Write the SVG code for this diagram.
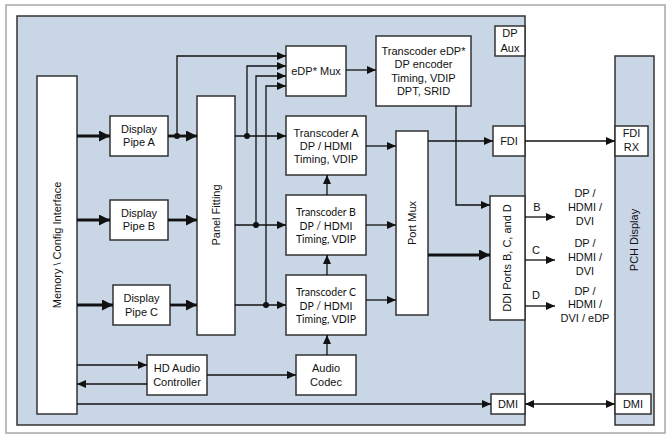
<svg xmlns="http://www.w3.org/2000/svg" width="672" height="441" viewBox="0 0 672 441">
<style>
.frame{fill:#ffffff;stroke:#a8a8a8;stroke-width:1.5}
.area{fill:#c9d6e5;stroke:#333333;stroke-width:1.5}
.box{fill:#ffffff;stroke:#333333;stroke-width:1.5}
.t{font-family:"Liberation Sans",Arial,sans-serif;font-size:11px;fill:#111111;text-anchor:middle}
.tc{font-family:Lato,"Liberation Sans",sans-serif;font-size:10.5px;fill:#111111;text-anchor:middle}
.ln{fill:none;stroke:#111111;stroke-width:1.3}
.thick{fill:none;stroke:#111111;stroke-width:2.8}
.dot{fill:#111111}
</style>
<defs>
<marker id="ah" markerWidth="9" markerHeight="8" refX="9" refY="4" orient="auto-start-reverse" markerUnits="userSpaceOnUse"><path d="M0,0 L9,4 L0,8 z" fill="#111111"/></marker>
<marker id="ahT" markerWidth="11" markerHeight="11" refX="11" refY="5.5" orient="auto" markerUnits="userSpaceOnUse"><path d="M0,0 L11,5.5 L0,11 z" fill="#111111"/></marker>
</defs>

<rect class="frame" x="6" y="5" width="659" height="428"/>
<rect id="soc" class="area" x="17" y="16" width="508" height="409"/>
<g id="pch"><rect class="area" x="615" y="56" width="39" height="369"/>
<text class="t" transform="rotate(-90 638 240)" x="638" y="240">PCH Display</text></g>

<g id="dpaux"><rect class="box" x="495" y="26" width="30" height="30"/>
<text class="t" x="510" y="37">DP</text><text class="t" x="510" y="52">Aux</text></g>

<g id="memory"><rect class="box" x="37" y="76" width="40" height="338"/>
<text class="t" transform="rotate(-90 61 245)" x="61" y="245">Memory \ Config Interface</text></g>

<g id="pipeA"><rect class="box" x="110" y="116" width="58" height="40"/>
<text class="t" x="139" y="133">Display</text><text class="t" x="139" y="146">Pipe A</text></g>
<g id="pipeB"><rect class="box" x="110" y="200" width="58" height="40"/>
<text class="t" x="139" y="217">Display</text><text class="t" x="139" y="230">Pipe B</text></g>
<g id="pipeC"><rect class="box" x="113" y="285" width="57" height="40"/>
<text class="t" x="141.5" y="302">Display</text><text class="t" x="141.5" y="316">Pipe C</text></g>

<g id="panel"><rect class="box" x="197" y="96" width="38" height="239"/>
<text class="t" transform="rotate(-90 220 215)" x="220" y="215">Panel Fitting</text></g>

<g id="edpmux"><rect class="box" x="286" y="46" width="60" height="50"/>
<text class="t" x="316" y="75">eDP* Mux</text></g>

<g id="transEdp"><rect class="box" x="376" y="36" width="95" height="70"/>
<text class="t" x="423.5" y="55">Transcoder eDP*</text>
<text class="t" x="423.5" y="68">DP encoder</text>
<text class="t" x="423.5" y="82">Timing, VDIP</text>
<text class="t" x="423.5" y="95">DPT, SRID</text></g>

<g id="transA"><rect class="box" x="286" y="116" width="80" height="59"/>
<text class="t" x="326" y="137">Transcoder A</text>
<text class="t" x="326" y="150">DP / HDMI</text>
<text class="t" x="326" y="163">Timing, VDIP</text></g>

<g id="transB"><rect class="box" x="286" y="195" width="80" height="60"/>
<text class="tc" x="326" y="216">Transcoder B</text>
<text class="tc" x="326" y="229.5">DP / HDMI</text>
<text class="tc" x="326" y="243">Timing, VDIP</text></g>

<g id="transC"><rect class="box" x="286" y="275" width="80" height="60"/>
<text class="tc" x="326" y="296">Transcoder C</text>
<text class="tc" x="326" y="309.5">DP / HDMI</text>
<text class="tc" x="326" y="323">Timing, VDIP</text></g>

<g id="portmux"><rect class="box" x="396" y="131" width="32" height="184"/>
<text class="t" transform="rotate(-90 416 223)" x="416" y="223">Port Mux</text></g>

<g id="fdi"><rect class="box" x="493" y="126" width="32" height="30"/>
<text class="t" x="509" y="145">FDI</text></g>

<g id="fdirx"><rect class="box" x="615" y="126" width="33" height="30"/>
<text class="t" x="631.5" y="137">FDI</text><text class="t" x="631.5" y="151">RX</text></g>

<g id="ddi"><rect class="box" x="490" y="196" width="35" height="124"/>
<text class="t" transform="rotate(-90 511 258)" x="511" y="258">DDI Ports B, C, and D</text></g>

<g id="audioCtl"><rect class="box" x="147" y="355" width="60" height="40"/>
<text class="t" x="177" y="372">HD Audio</text><text class="t" x="177" y="386">Controller</text></g>

<g id="codec"><rect class="box" x="296" y="355" width="60" height="40"/>
<text class="t" x="326" y="372">Audio</text><text class="t" x="326" y="386">Codec</text></g>

<g id="dmi"><rect class="box" x="491" y="394" width="34" height="20"/>
<text class="t" x="508" y="408">DMI</text></g>
<g id="dmipch"><rect class="box" x="615" y="394" width="36" height="20"/>
<text class="t" x="633" y="408">DMI</text></g>

<g id="outputs">
<text class="t" x="537" y="211">B</text>
<text class="t" x="536" y="254">C</text>
<text class="t" x="536" y="299">D</text>
<text class="t" x="585" y="197">DP /</text><text class="t" x="585" y="211">HDMI /</text><text class="t" x="585" y="225">DVI</text>
<text class="t" x="585" y="247">DP /</text><text class="t" x="585" y="261">HDMI /</text><text class="t" x="585" y="275">DVI</text>
<text class="t" x="585" y="295">DP /</text><text class="t" x="585" y="308">HDMI /</text><text class="t" x="585" y="322">DVI / eDP</text>
</g>

<g id="connectors">
<path class="thick" d="M77,136 H110" marker-end="url(#ahT)"/>
<path class="thick" d="M168,136 H197" marker-end="url(#ahT)"/>
<path class="ln" d="M177,136 V56 H286" marker-end="url(#ah)"/>
<path class="ln" d="M235,136 H286" marker-end="url(#ah)"/>
<path class="ln" d="M247,136 V66 H286" marker-end="url(#ah)"/>
<path class="thick" d="M77,220 H110" marker-end="url(#ahT)"/>
<path class="thick" d="M168,220 H197" marker-end="url(#ahT)"/>
<path class="ln" d="M235,225 H286" marker-end="url(#ah)"/>
<path class="ln" d="M256,225 V76 H286" marker-end="url(#ah)"/>
<path class="thick" d="M77,305 H113" marker-end="url(#ahT)"/>
<path class="thick" d="M170,305 H197" marker-end="url(#ahT)"/>
<path class="ln" d="M235,305 H286" marker-end="url(#ah)"/>
<path class="ln" d="M266,305 V86 H286" marker-end="url(#ah)"/>
<circle class="dot" cx="177" cy="136" r="3"/>
<circle class="dot" cx="247" cy="136" r="3"/>
<circle class="dot" cx="256" cy="225" r="3"/>
<circle class="dot" cx="266" cy="305" r="3"/>
<path class="ln" d="M346,70 H376" marker-end="url(#ah)"/>
<path class="ln" d="M327,195 V175" marker-end="url(#ah)"/>
<path class="ln" d="M327,275 V255" marker-end="url(#ah)"/>
<path class="ln" d="M327,355 V335" marker-end="url(#ah)"/>
<path class="ln" d="M366,146 H396" marker-end="url(#ah)"/>
<path class="ln" d="M366,225 H396" marker-end="url(#ah)"/>
<path class="ln" d="M366,300 H396" marker-end="url(#ah)"/>
<path class="ln" d="M428,141 H493" marker-end="url(#ah)"/>
<path class="ln" d="M456,106 V205 H490" marker-end="url(#ah)"/>
<path class="thick" d="M428,255 H490" marker-end="url(#ahT)"/>
<path class="ln" d="M525,141 H615" marker-end="url(#ah)"/>
<path class="ln" d="M525,217 H555" marker-end="url(#ah)"/>
<path class="ln" d="M525,260 H555" marker-end="url(#ah)"/>
<path class="ln" d="M525,306 H555" marker-end="url(#ah)"/>
<path class="ln" d="M77,365 H147" marker-end="url(#ah)"/>
<path class="ln" d="M147,384 H77" marker-end="url(#ah)"/>
<path class="ln" d="M207,375 H296" marker-end="url(#ah)"/>
<path class="ln" d="M77,404 H491" marker-end="url(#ah)"/>
<path class="ln" d="M525,404 H615" marker-start="url(#ah)" marker-end="url(#ah)"/>
</g>
</svg>
